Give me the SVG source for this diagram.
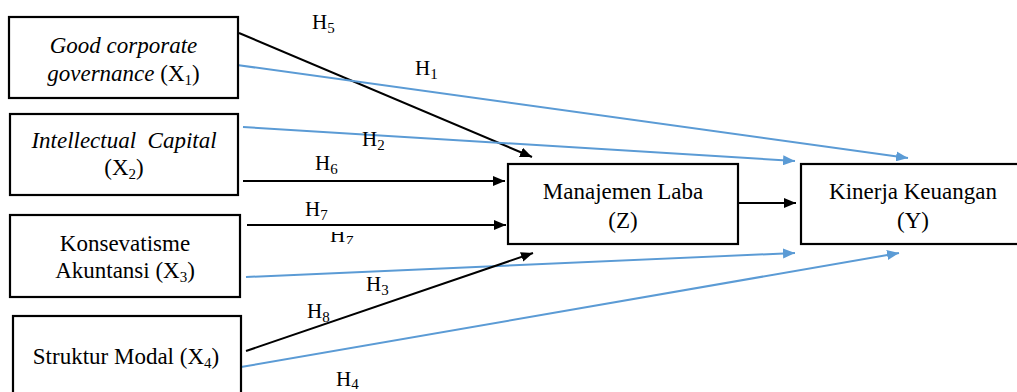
<svg xmlns="http://www.w3.org/2000/svg" width="1017" height="392" viewBox="0 0 1017 392">
<style>
.box{fill:#fff;stroke:#000;stroke-width:2.2}
text{font-family:'Liberation Serif','DejaVu Serif',serif;fill:#000}
.t{font-size:23px}
.h{font-size:21px}
.i{font-style:italic}
.sub{font-size:15px}
.k{stroke:#000;stroke-width:2;fill:none}
.b{stroke:#5B9BD5;stroke-width:2;fill:none}
</style>
<defs>
<marker id="ak" viewBox="0 0 12 10" refX="12" refY="5" markerWidth="12" markerHeight="10" markerUnits="userSpaceOnUse" orient="auto"><path d="M0,0 L12,5 L0,10 Z" fill="#000"/></marker>
<marker id="ab" viewBox="0 0 12 10" refX="12" refY="5" markerWidth="12" markerHeight="10" markerUnits="userSpaceOnUse" orient="auto"><path d="M0,0 L12,5 L0,10 Z" fill="#5B9BD5"/></marker>
<clipPath id="cut"><rect x="320" y="232" width="50" height="12"/></clipPath>
</defs>
<rect width="1017" height="392" fill="#fff"/>
<g id="connectors">
<line class="k" x1="239" y1="33" x2="532" y2="157" marker-end="url(#ak)"/>
<line class="b" x1="237" y1="65" x2="908" y2="158" marker-end="url(#ab)"/>
<line class="b" x1="243" y1="127" x2="795" y2="161" marker-end="url(#ab)"/>
<line class="k" x1="243" y1="181" x2="505" y2="181" marker-end="url(#ak)"/>
<line class="k" x1="247" y1="225" x2="506" y2="225" marker-end="url(#ak)"/>
<line class="k" x1="738" y1="203" x2="796" y2="203" marker-end="url(#ak)"/>
<line class="b" x1="246" y1="277" x2="795" y2="253" marker-end="url(#ab)"/>
<line class="k" x1="246" y1="351" x2="533" y2="253" marker-end="url(#ak)"/>
<line class="b" x1="241" y1="367" x2="899" y2="253" marker-end="url(#ab)"/>
<text class="h" x="312" y="29">H<tspan class="sub" dy="4">5</tspan></text>
<text class="h" x="415" y="75">H<tspan class="sub" dy="4">1</tspan></text>
<text class="h" x="362" y="146">H<tspan class="sub" dy="4">2</tspan></text>
<text class="h" x="315" y="170">H<tspan class="sub" dy="4">6</tspan></text>
<text class="h" x="305" y="216">H<tspan class="sub" dy="4">7</tspan></text>
<text class="h" x="330" y="242" clip-path="url(#cut)">H<tspan class="sub i" dy="4">7</tspan></text>
<text class="h" x="366" y="291">H<tspan class="sub" dy="4">3</tspan></text>
<text class="h" x="307" y="318">H<tspan class="sub" dy="4">8</tspan></text>
<text class="h" x="336" y="386">H<tspan class="sub" dy="3">4</tspan></text>
</g>
<g id="x1">
<rect class="box" x="9" y="17" width="229" height="81"/>
<text class="t" x="123.5" y="53" text-anchor="middle"><tspan class="i">Good corporate</tspan></text>
<text class="t" x="123.5" y="81" text-anchor="middle"><tspan class="i">governance</tspan> (X<tspan class="sub" dy="4">1</tspan><tspan dy="-4">)</tspan></text>
</g>
<g id="x2">
<rect class="box" x="10" y="114" width="228" height="81"/>
<text class="t" x="124" y="148" text-anchor="middle" xml:space="preserve"><tspan class="i">Intellectual  Capital</tspan></text>
<text class="t" x="124" y="175" text-anchor="middle">(X<tspan class="sub" dy="4">2</tspan><tspan dy="-4">)</tspan></text>
</g>
<g id="x3">
<rect class="box" x="10" y="215" width="230" height="82"/>
<text class="t" x="125" y="251" text-anchor="middle">Konsevatisme</text>
<text class="t" x="125" y="278" text-anchor="middle">Akuntansi (X<tspan class="sub" dy="4">3</tspan><tspan dy="-4">)</tspan></text>
</g>
<g id="x4">
<rect class="box" x="13" y="316" width="228" height="90"/>
<text class="t" x="126" y="364" text-anchor="middle">Struktur Modal (X<tspan class="sub" dy="4">4</tspan><tspan dy="-4">)</tspan></text>
</g>
<g id="z">
<rect class="box" x="508" y="164" width="230" height="80"/>
<text class="t" x="623" y="199" text-anchor="middle">Manajemen Laba</text>
<text class="t" x="623" y="228" text-anchor="middle">(Z)</text>
</g>
<g id="y">
<rect class="box" x="801" y="164" width="230" height="80"/>
<text class="t" x="913" y="199" text-anchor="middle">Kinerja Keuangan</text>
<text class="t" x="913" y="228" text-anchor="middle">(Y)</text>
</g>
</svg>
